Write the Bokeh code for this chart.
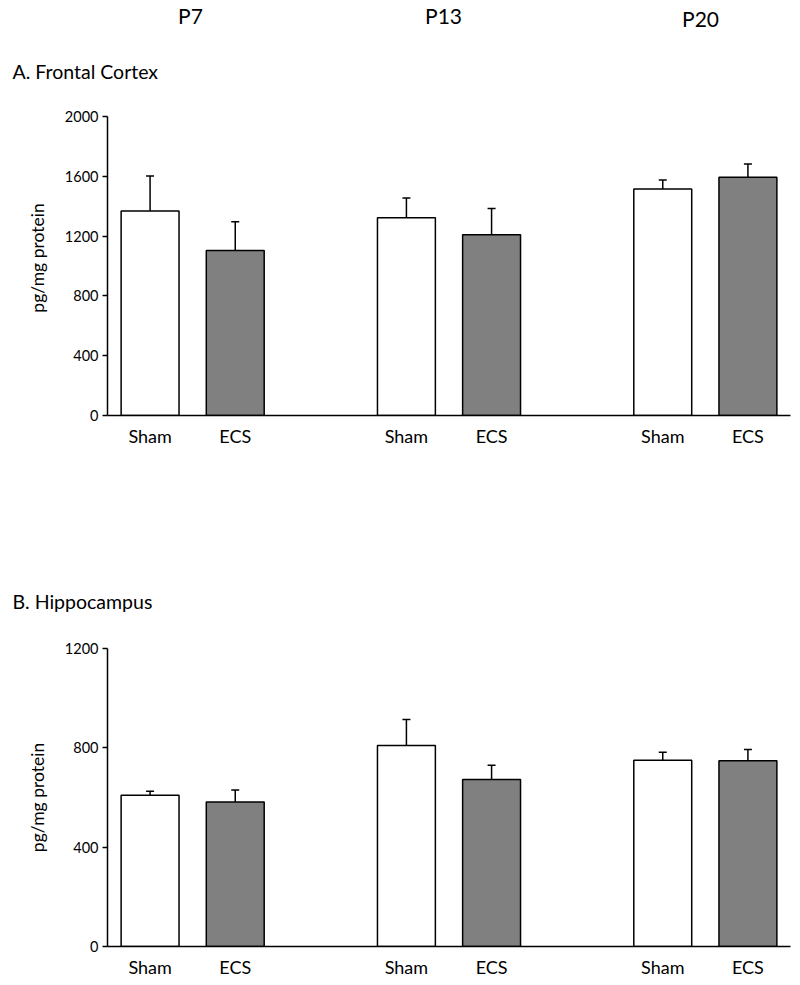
from bokeh.plotting import figure
from bokeh.models import FactorRange, Range1d, FixedTicker, ColumnDataSource, Title, Spacer
from bokeh.layouts import column
from bokeh.core.properties import value
from bokeh.embed import file_html
from bokeh.resources import INLINE

# ---------------- data ----------------
groups = ["P7", "P13", "P20"]
conditions = ["Sham", "ECS"]
cond_colors = ["white", "#808080"]

# A. Frontal Cortex (pg/mg protein)
fc_sham = [1368, 1323, 1515]
fc_sham_sem = [234, 132, 61]
fc_ecs = [1104, 1209, 1593]
fc_ecs_sem = [192, 176, 90]
fc_ticks = [0, 400, 800, 1200, 1600, 2000]

# B. Hippocampus (pg/mg protein)
hc_sham = [609, 809, 750]
hc_sham_sem = [16, 105, 32]
hc_ecs = [582, 672, 748]
hc_ecs_sem = [48, 58, 45]
hc_ticks = [0, 400, 800, 1200]

y_label = "pg/mg protein"
title_a = "A. Frontal Cortex"
title_b = "B. Hippocampus"

FONT = "Lato"
W = 792
BL, BR = 107, 2          # left / right borders -> frame from x=107 to x=790
H1 = 40                  # height of the strip with the age labels


def header(height, labels):
    """Strip for the age labels; data coordinates equal page pixels."""
    h = figure(width=W, height=height,
               x_range=Range1d(BL, W - BR), y_range=Range1d(height, 0),
               output_backend="svg", toolbar_location=None,
               min_border_left=BL, min_border_right=BR, min_border_top=0, min_border_bottom=0,
               x_axis_location=None, y_axis_location=None)
    h.grid.visible = False
    h.outline_line_color = None
    xs, ys, ts = zip(*labels)
    h.text(x=list(xs), y=list(ys), text=list(ts), text_font=value(FONT),
           text_font_size=value("21px"), text_align="center",
           text_baseline="alphabetic", text_color="black")
    return h


def panel(title, title_standoff, head_px, sham, sham_sem, ecs, ecs_sem, ticks, axis_h, bottom):
    factors, means, tops, fills = [], [], [], []
    for i, g in enumerate(groups):
        for c, m, s, col in zip(conditions, [sham[i], ecs[i]], [sham_sem[i], ecs_sem[i]], cond_colors):
            factors.append((g, c))
            means.append(m)
            tops.append(m + s)
            fills.append(col)
    src = ColumnDataSource(dict(x=factors, m=means, t=tops, c=fills))
    xr = FactorRange(*factors, factor_padding=0.0, group_padding=1.01, range_padding=0.0)
    y_end = ticks[-1] + head_px * (ticks[-1] - ticks[0]) / axis_h
    p = figure(x_range=xr, y_range=Range1d(ticks[0], y_end), width=W,
               frame_height=axis_h + head_px,
               output_backend="svg", toolbar_location=None,
               min_border_left=BL, min_border_right=BR, min_border_top=0,
               min_border_bottom=bottom)
    p.title = None
    p.add_layout(Title(text=title, align="left", offset=12 - BL, standoff=title_standoff,
                       text_font=FONT, text_font_size="19.5px", text_font_style="normal",
                       text_color="black"), "above")
    p.vbar(x="x", top="m", width=0.68, source=src, fill_color="c",
           line_color="black", line_width=1.5)
    p.segment(x0="x", y0="m", x1="x", y1="t", source=src, line_color="black", line_width=1.5)
    p.scatter(x="x", y="t", source=src, marker="dash", size=8,
              line_color="black", line_width=1.5)
    p.grid.visible = False
    p.outline_line_color = None

    ya = p.yaxis[0]
    ya.bounds = (ticks[0], ticks[-1])
    ya.ticker = FixedTicker(ticks=ticks)
    ya.minor_tick_line_color = None
    ya.major_tick_out = 5
    ya.major_tick_in = 0
    ya.axis_line_width = 1.5
    ya.axis_line_color = "black"
    ya.major_tick_line_width = 1.5
    ya.major_tick_line_color = "black"
    ya.major_label_text_font = FONT
    ya.major_label_text_font_size = "14.5px"
    ya.major_label_text_color = "black"
    ya.major_label_standoff = 4
    ya.axis_label = y_label
    ya.axis_label_text_font = FONT
    ya.axis_label_text_font_size = "17.5px"
    ya.axis_label_text_font_style = "normal"
    ya.axis_label_text_color = "black"
    ya.axis_label_standoff = 14

    xa = p.xaxis[0]
    xa.axis_line_width = 1.5
    xa.axis_line_color = "black"
    xa.major_tick_line_color = None
    xa.major_tick_out = 0
    xa.major_tick_in = 0
    xa.major_label_text_font = FONT
    xa.major_label_text_font_size = "18px"
    xa.major_label_text_color = "black"
    xa.major_label_standoff = 9
    xa.group_text_font_size = "0px"
    xa.group_text_color = None
    xa.separator_line_color = None
    return p


h1 = header(H1, [(190, 15, groups[0]), (443, 15, groups[1]), (700, 18, groups[2])])
pa = panel(title_a, 35, 16, fc_sham, fc_sham_sem, fc_ecs, fc_ecs_sem, fc_ticks, 299, 40)
gap = Spacer(width=W, height=96)
pb = panel(title_b, 72, 0, hc_sham, hc_sham_sem, hc_ecs, hc_ecs_sem, hc_ticks, 298, 30)

layout = column(h1, pa, gap, pb, spacing=0)
open("out.html", "w").write(file_html(layout, INLINE))
